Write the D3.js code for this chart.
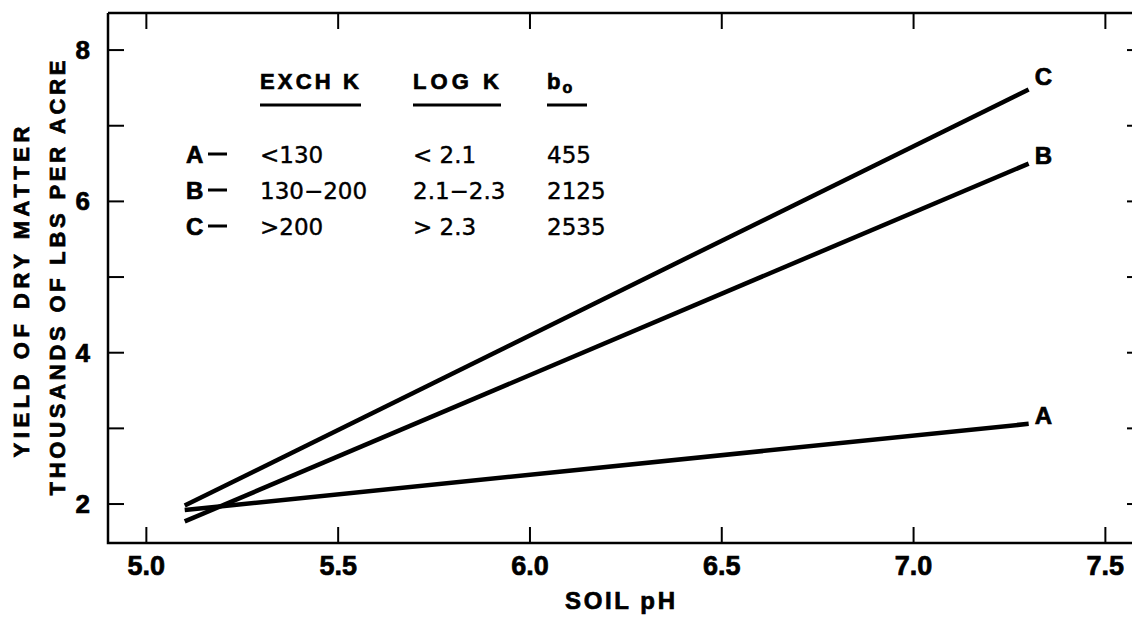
<!DOCTYPE html>
<html><head><meta charset="utf-8">
<script src="https://cdn.jsdelivr.net/npm/d3@7"></script>
<style>body{margin:0;background:#fff}</style>
</head><body><svg id="c" width="1132" height="618"></svg>
<script>
// ---- data ----
const curveNames = ["A", "B", "C"];
const phStart = [5.1, 5.1, 5.1];
const phEnd = [7.3, 7.3, 7.3];
const yieldStart = [1.92, 1.77, 1.98];
const yieldEnd = [3.06, 6.50, 7.48];
const xTicks = [5.0, 5.5, 6.0, 6.5, 7.0, 7.5];
const xTickLabels = ["5.0", "5.5", "6.0", "6.5", "7.0", "7.5"];
const yTicks = [2, 3, 4, 5, 6, 7, 8];
const yLabelTicks = [2, 4, 6, 8];
const yTickLabels = ["2", "4", "6", "8"];
const legendHeaders = ["EXCH K", "LOG K", "b"];
const legendRows = ["A", "B", "C"];
const exchK = ["<130", "130\u2212200", ">200"];
const logK = ["< 2.1", "2.1\u22122.3", "> 2.3"];
const b0 = ["455", "2125", "2535"];
const xTitle = "SOIL pH";
const yTitle1 = "YIELD OF DRY MATTER";
const yTitle2 = "THOUSANDS OF LBS PER ACRE";

// ---- drawing ----
const svg = d3.select("#c");
const FB = "'Liberation Sans', Arial, sans-serif";
const FN = "'DejaVu Sans', sans-serif";
const x = d3.scaleLinear().domain([4.9, 7.572]).range([108, 1133]);
const y = d3.scaleLinear().domain([1.485, 8.49]).range([543, 13]);
const [x0, x1] = x.range();
const [yb, yt] = y.range();

const g = svg.append("g");
const bold = sel => sel.attr("font-family", FB).attr("font-weight", "bold")
  .attr("stroke", "#000").attr("stroke-width", 0.7).attr("fill", "#000");

// frame
g.append("path")
  .attr("d", `M${x0},${yt}H${x1}M${x0},${yt}V${yb}H${x1}`)
  .attr("fill", "none").attr("stroke", "#000").attr("stroke-width", 2.5);

// ticks (inward)
const tk = 16;
g.selectAll(".xb").data(xTicks).join("line")
  .attr("x1", d => x(d)).attr("x2", d => x(d)).attr("y1", yb).attr("y2", yb - tk)
  .attr("stroke", "#000").attr("stroke-width", 2);
g.selectAll(".xt").data(xTicks).join("line")
  .attr("x1", d => x(d)).attr("x2", d => x(d)).attr("y1", yt).attr("y2", yt + tk)
  .attr("stroke", "#000").attr("stroke-width", 2);
g.selectAll(".yl").data(yTicks).join("line")
  .attr("x1", x0).attr("x2", x0 + tk).attr("y1", d => y(d)).attr("y2", d => y(d))
  .attr("stroke", "#000").attr("stroke-width", 2);
g.selectAll(".yr").data(yTicks).join("line")
  .attr("x1", x1).attr("x2", x1 - 6).attr("y1", d => y(d)).attr("y2", d => y(d))
  .attr("stroke", "#000").attr("stroke-width", 2);

// tick labels
g.selectAll(".xl").data(xTicks).join("text")
  .attr("x", d => x(d)).attr("y", 575)
  .attr("text-anchor", "middle").attr("font-size", 27).call(bold)
  .text((d, i) => xTickLabels[i]);
g.selectAll(".ylab").data(yLabelTicks).join("text")
  .attr("x", 90).attr("y", d => y(d) + 9)
  .attr("text-anchor", "end").attr("font-size", 26).call(bold)
  .text((d, i) => yTickLabels[i]);

// axis titles
g.append("text").attr("x", 620).attr("y", 609).attr("text-anchor", "middle")
  .attr("font-size", 24).call(bold)
  .attr("textLength", 110).attr("lengthAdjust", "spacing").text(xTitle);
g.append("text").attr("transform", "translate(29,292) rotate(-90)").attr("text-anchor", "middle")
  .attr("font-size", 22).call(bold)
  .attr("textLength", 331).attr("lengthAdjust", "spacing").text(yTitle1);
g.append("text").attr("transform", "translate(65,278) rotate(-90)").attr("text-anchor", "middle")
  .attr("font-size", 22).call(bold)
  .attr("textLength", 435).attr("lengthAdjust", "spacing").text(yTitle2);

// regression lines
const lines = curveNames.map((n, i) => ({ n, x0: phStart[i], y0: yieldStart[i], x1: phEnd[i], y1: yieldEnd[i] }));
g.selectAll(".ln").data(lines).join("line")
  .attr("x1", d => x(d.x0)).attr("y1", d => y(d.y0))
  .attr("x2", d => x(d.x1)).attr("y2", d => y(d.y1))
  .attr("stroke", "#000").attr("stroke-width", 4.5);
g.selectAll(".lnl").data(lines).join("text")
  .attr("x", d => x(d.x1) + 6).attr("y", d => y(d.y1) - (d.n === "C" ? 4 : 0))
  .attr("font-size", 24).call(bold)
  .text(d => d.n);

// legend
const colX = [260, 413, 547];
const colW = [101, 88, 40];
const hdrY = 89, ulY = 105;
legendHeaders.forEach((h, i) => {
  const t = g.append("text").attr("x", colX[i]).attr("y", hdrY)
    .attr("font-size", 22).call(bold);
  if (i < 2) {
    t.attr("textLength", colW[i] - 2).attr("lengthAdjust", "spacing").text(h);
  } else {
    t.attr("font-size", 22).text(h);
    t.append("tspan").attr("font-size", 16).attr("dx", 2).attr("dy", 4).text("o");
  }
  g.append("line").attr("x1", colX[i]).attr("x2", colX[i] + colW[i])
    .attr("y1", ulY).attr("y2", ulY).attr("stroke", "#000").attr("stroke-width", 3);
});
const rowY = [163, 199, 235];
legendRows.forEach((r, i) => {
  g.append("text").attr("x", 186).attr("y", rowY[i])
    .attr("font-size", 24).call(bold).text(r);
  g.append("line").attr("x1", 208).attr("x2", 227).attr("y1", rowY[i] - 9).attr("y2", rowY[i] - 9)
    .attr("stroke", "#000").attr("stroke-width", 3);
  [exchK, logK, b0].forEach((col, j) => {
    g.append("text").attr("x", colX[j]).attr("y", rowY[i])
      .attr("font-family", FN).attr("font-size", 23)
      .attr("stroke", "#000").attr("stroke-width", 0.4).text(col[i]);
  });
});
</script></body></html>
